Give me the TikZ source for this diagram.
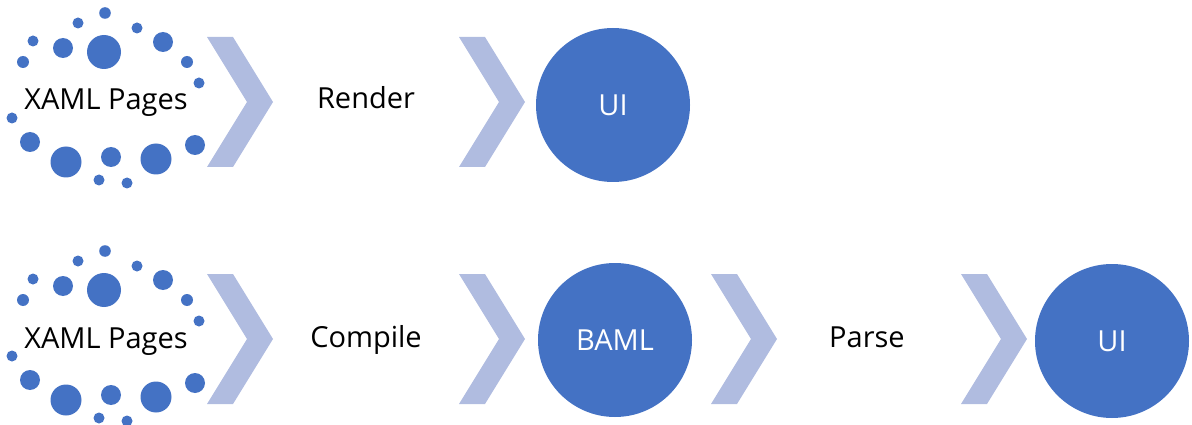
\documentclass[tikz,border=0pt]{standalone}
\usepackage{fontspec}
\setmainfont{Open Sans}
\usetikzlibrary{calc}

\definecolor{dotblue}{RGB}{68,114,196}
\definecolor{chevblue}{RGB}{176,188,224}

\tikzset{
  lbl/.style={anchor=base,inner sep=0pt,font=\fontsize{29}{34}\selectfont},
  disc/.style={circle,fill=dotblue,text=white,minimum size=154pt,inner sep=0pt,
    font=\fontsize{29}{34}\selectfont},
}

% chevron with top left corner at (#1,#2)
\newcommand{\chevron}[2]{%
  \fill[chevblue] (#1,#2) -- ++(26,0) -- ++(40,65) -- ++(-40,65) -- ++(-26,0)
    -- ++(40,-65) -- cycle;}

\begin{document}
\begin{tikzpicture}[x=1pt,y=-1pt]
   \useasboundingbox (0,0) rectangle (1192,425);

   % the two rings of dots
   \foreach \dy in {0,238} {
     \foreach \x/\y/\r in {105/13/5.8, 78/23/5.5, 137/28/5.5, 33/41/5.5,
         63/48/10, 104/52/17, 163/42/10, 23/62/6, 187/62/6, 199/83/5.5,
         12/118/5.5, 30/142/10, 66/162/15.5, 111/157/10, 156/159/15.5,
         195/145/10, 99/180/5.5, 127/183/5.5}
       \fill[dotblue] (\x,\y+\dy) circle[radius=\r];
   }

   % top row
   \node[lbl] (xaml1) at (106,110) {XAML Pages};
   \chevron{207}{37}
   \node[lbl] (render) at (366,109) {Render};
   \chevron{459}{37}
   \node[disc] (ui1) at (613,105) {UI};

   % bottom row
   \node[lbl] (xaml2) at (106,348) {XAML Pages};
   \chevron{207}{274}
   \node[lbl] (compile) at (366,347) {Compile};
   \chevron{459}{274}
   \node[disc] (baml) at (615,340) {BAML};
   \chevron{711}{274}
   \node[lbl] (parse) at (867,347) {Parse};
   \chevron{961}{274}
   \node[disc] (ui2) at (1112,341) {UI};
\end{tikzpicture}
\end{document}
